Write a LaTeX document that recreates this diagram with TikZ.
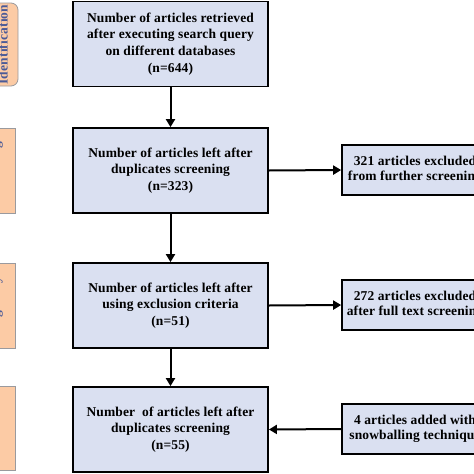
\documentclass[tikz,border=0pt]{standalone}
\usepackage{fontspec}
\setmainfont{Liberation Serif}
\newfontfamily\boxfont[LetterSpace=1]{Liberation Serif}
\usetikzlibrary{arrows.meta}
\definecolor{boxblue}{HTML}{DAE0F1}
\definecolor{peach}{HTML}{FCCBA5}
\definecolor{labblue}{HTML}{4A5A98}
\definecolor{labborder}{HTML}{9A9A9E}
\tikzset{
  mainbox/.style={draw=black, line width=1.8pt, fill=boxblue, minimum width=195pt,
    minimum height=85pt, align=center, inner sep=2pt,
    font=\boxfont\bfseries\fontsize{13.5pt}{16.7pt}\selectfont},
  sidebox/.style={draw=black, line width=1.6pt, fill=boxblue, minimum width=146pt,
    minimum height=50pt, align=center, inner sep=2pt,
    font=\boxfont\bfseries\fontsize{13.5pt}{15.5pt}\selectfont},
  stagebox/.style={draw=labborder, line width=0.8pt, fill=peach},
  stagetext/.style={rotate=90, anchor=south, text=labblue,
    font=\boxfont\bfseries\fontsize{13.5pt}{15pt}\selectfont, inner sep=0pt},
  arr/.style={line width=2pt, -{Triangle[length=8pt,width=9pt]}}
}
\begin{document}
\begin{tikzpicture}[x=1pt,y=-1pt]
\useasboundingbox (0,0) rectangle (474,474);
\clip (0,0) rectangle (474,474);
% stage labels
\draw[stagebox, rounded corners=7pt] (-30,3) rectangle (18,86);
\node[stagetext] (s1) at (8,44.5) {Identification};
\draw[stagebox] (-30,128) rectangle (15,213);
\node[stagetext] (s2) at (3,170.5) {Screening};
\draw[stagebox] (-30,263) rectangle (15,348);
\node[stagetext] (s3) at (3,305.5) {Eligibility};
\draw[stagebox] (-30,386) rectangle (15,470);
\node[stagetext] (s4) at (0,428) {Included};
% main boxes
\node[mainbox] (b1) at (170.5,44) {Number of articles retrieved\\after executing search query\\on different databases\\(n=644)};
\node[mainbox] (b2) at (170.5,170.5) {Number of articles left after\\duplicates screening\\(n=323)};
\node[mainbox] (b3) at (170.5,305.5) {Number of articles left after\\using exclusion criteria\\(n=51)};
\node[mainbox] (b4) at (170.5,429.5) {Number\ \ of articles left after\\duplicates screening\\(n=55)};
% side boxes
\node[sidebox] (r1) at (415,170) {321 articles excluded\\from further screening};
\node[sidebox] (r2) at (415,305) {272 articles excluded\\after full text screening};
\node[sidebox] (r3) at (415,429) {4 articles added with\\snowballing technique};
% arrows
\draw[arr] (b1) -- (b2);
\draw[arr] (b2) -- (b3);
\draw[arr] (b3) -- (b4);
\draw[arr] (b2.east) -- (r1.west);
\draw[arr] (b3.east) -- (r2.west);
\draw[arr] (r3.west) -- (b4.east);
\end{tikzpicture}
\end{document}
